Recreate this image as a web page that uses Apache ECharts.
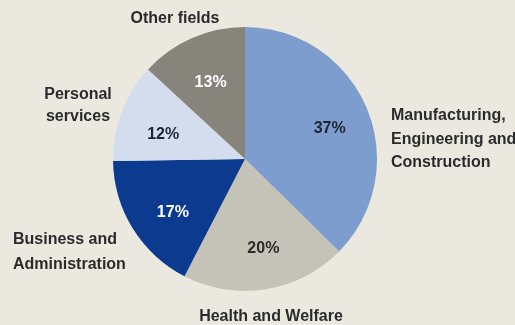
<!DOCTYPE html>
<html>
<head>
<meta charset="utf-8">
<script src="https://cdn.jsdelivr.net/npm/echarts@6/dist/echarts.min.js"></script>
<style>
  html, body { margin: 0; padding: 0; background: #ebe8e0; }
  #chart { width: 515px; height: 325px; }
</style>
</head>
<body>
<div id="chart"></div>
<script>
// Fields of study, clockwise from 12 o'clock
const categories = [
  'Manufacturing,\nEngineering and\nConstruction',
  'Health and Welfare',
  'Business and\nAdministration',
  'Personal\nservices',
  'Other fields'
];
const shares = [37, 20, 17, 12, 13];
const sliceColors = ['#7e9dcf', '#c5c2b8', '#0b3a8e', '#d3ddee', '#87847c'];
const percentColors = ['#1f2530', '#2a2a2a', '#ffffff', '#1f2530', '#ffffff'];
// small nudges for the percentage labels inside each slice
const percentOffsets = [[1, 5], [4, 0], [5, 6], [3, 8], [2, 7]];

const FONT = '"Liberation Sans", Arial, sans-serif';
const center = [245, 159];
const R = 132;

const chart = echarts.init(document.getElementById('chart'), null, { renderer: 'canvas' });

const pieData = categories.map((name, i) => ({
  name,
  value: shares[i],
  itemStyle: { color: sliceColors[i] }
}));

const labelData = categories.map((name, i) => ({
  name,
  value: shares[i],
  label: { color: percentColors[i], offset: percentOffsets[i] }
}));

// Outer category labels placed around the pie (x = anchor, y = top of block)
const outerLabels = [
  { text: categories[0], x: 391, y: 104, lh: 23.5, align: 'left' },
  { text: categories[1], x: 271, y: 305, lh: 23, align: 'center' },
  { text: categories[2], x: 13, y: 227, lh: 25, align: 'left' },
  { text: categories[3], x: 78, y: 84, lh: 22, align: 'center' },
  { text: categories[4], x: 175, y: 7, lh: 23, align: 'center' }
];

chart.setOption({
  backgroundColor: '#ebe8e0',
  animation: false,
  series: [
    {
      type: 'pie',
      center,
      radius: [0, R],
      startAngle: 90,
      clockwise: true,
      silent: true,
      label: { show: false },
      labelLine: { show: false },
      itemStyle: { borderWidth: 0 },
      data: pieData
    },
    {
      // transparent ring used only to place the percentage labels
      type: 'pie',
      center,
      radius: [R * 0.33, R],
      startAngle: 90,
      clockwise: true,
      silent: true,
      itemStyle: { color: 'rgba(0,0,0,0)', borderWidth: 0 },
      label: {
        show: true,
        position: 'inside',
        formatter: p => p.value + '%',
        fontFamily: FONT,
        fontWeight: 'bold',
        fontSize: 16
      },
      labelLine: { show: false },
      data: labelData
    }
  ],
  graphic: outerLabels.map(l => ({
    type: 'text',
    x: l.x,
    y: l.y,
    style: {
      text: l.text,
      fill: '#2b2b2b',
      font: 'bold 16px ' + FONT,
      lineHeight: l.lh,
      textAlign: l.align,
      textVerticalAlign: 'top'
    }
  }))
});
</script>
</body>
</html>
